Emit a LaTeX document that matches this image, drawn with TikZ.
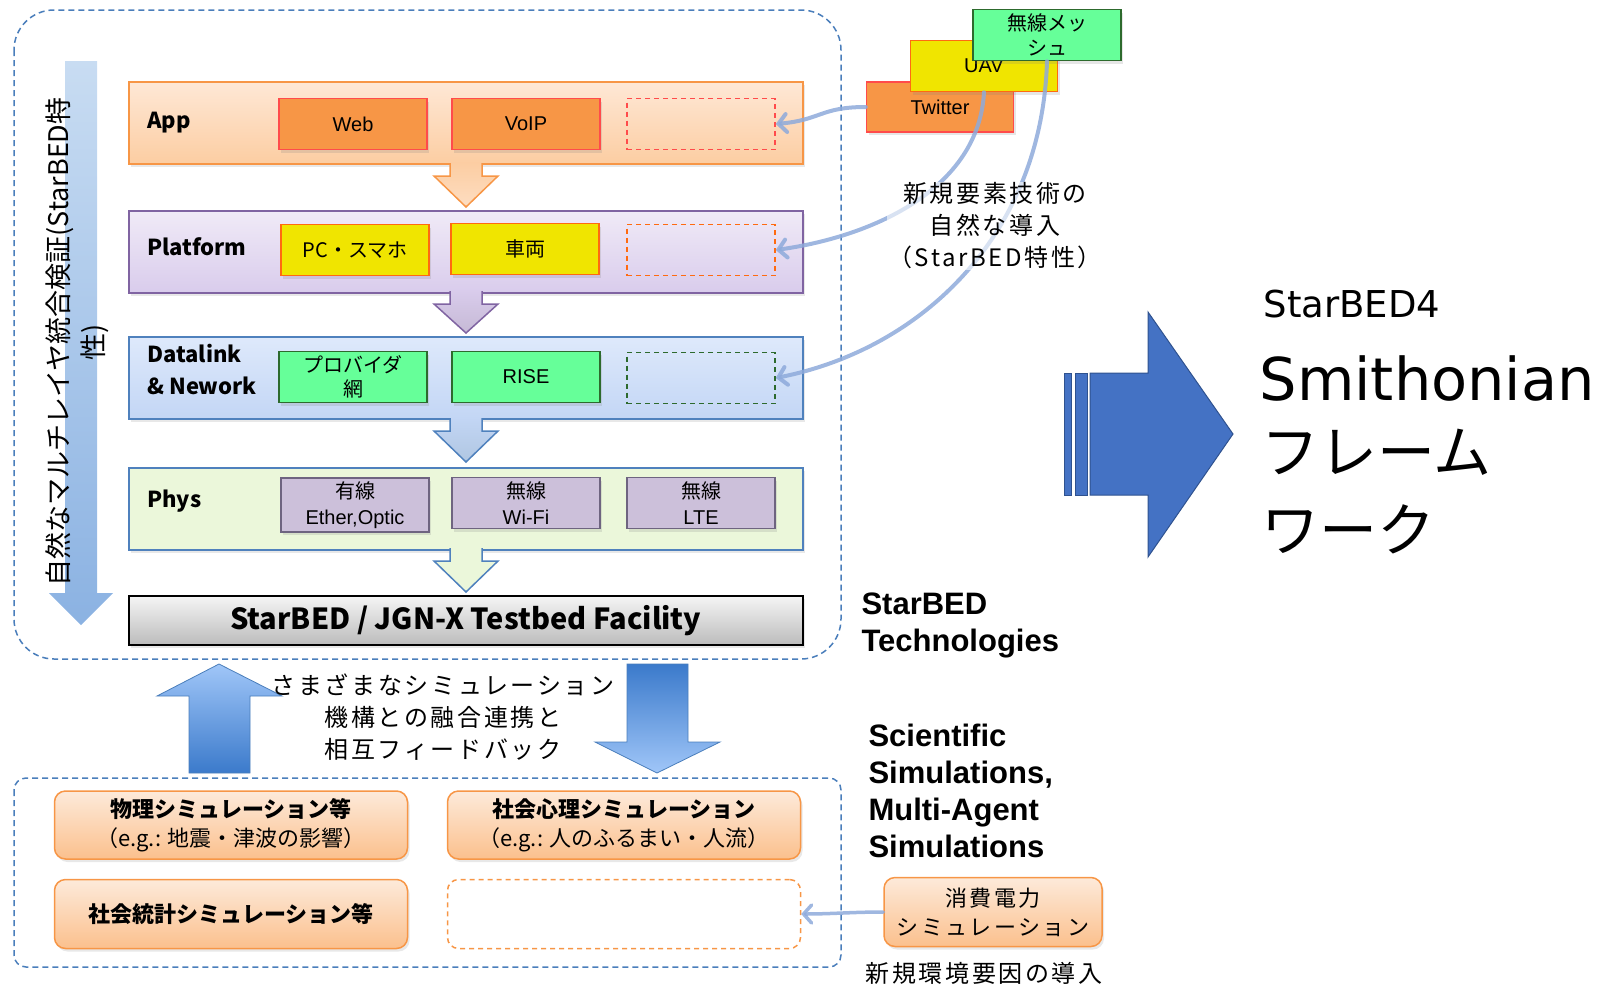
\documentclass[tikz,border=0pt]{standalone}
\usepackage{fontspec}
\setmainfont{Liberation Sans}
\newfontfamily\jp{Noto Sans CJK JP}
\newfontfamily\jpwide{Noto Sans CJK JP}[LetterSpace=11]
\newfontfamily\dvs{DejaVu Sans}
\usetikzlibrary{arrows.meta,shadows}
\newcommand{\fsz}[2]{\fontsize{#1}{#2}\selectfont}

\definecolor{appTop}{HTML}{FEE8D6}
\definecolor{appBot}{HTML}{FCCDA2}
\definecolor{appLine}{HTML}{F79646}
\definecolor{redLine}{HTML}{FF4B4B}
\definecolor{platTop}{HTML}{F0EAF7}
\definecolor{platBot}{HTML}{D9CCEC}
\definecolor{platLine}{HTML}{8064A2}
\definecolor{yellowCell}{HTML}{F0E500}
\definecolor{yellowLine}{HTML}{FF6A10}
\definecolor{linkTop}{HTML}{DEE9FB}
\definecolor{linkBot}{HTML}{C3D6F5}
\definecolor{linkLine}{HTML}{4F81BD}
\definecolor{greenCell}{HTML}{66FF99}
\definecolor{greenLine}{HTML}{2D6A2D}
\definecolor{physFill}{HTML}{EBF7DA}
\definecolor{grayCell}{HTML}{CCC0DA}
\definecolor{grayLine}{HTML}{6E6480}
\definecolor{facTop}{HTML}{F5F5F5}
\definecolor{facBot}{HTML}{BCBCBC}
\definecolor{newLine}{HTML}{8EAADB}
\definecolor{bigBlue}{HTML}{4472C4}
\definecolor{bigLine}{HTML}{2F528F}
\definecolor{midLight}{HTML}{A0C6F8}
\definecolor{midDark}{HTML}{3B7ACB}
\definecolor{simTop}{HTML}{FDEADA}
\definecolor{simBot}{HTML}{FBC08D}
\definecolor{frameLine}{HTML}{4A7EBB}
\definecolor{vTop}{HTML}{C8DCF2}
\definecolor{vBot}{HTML}{8BB2E2}

\tikzset{
  layer/.style={draw, line width=1.5, anchor=north west, minimum width=674, minimum height=82,
    drop shadow={opacity=0.18, shadow xshift=2pt, shadow yshift=-3pt}},
  lname/.style={anchor=west, align=left, inner sep=0, font=\jp\bfseries\fsz{22}{32}},
  cell/.style={draw, line width=1.5, minimum width=148, minimum height=51, align=center,
    font=\fsz{20}{26}, drop shadow={opacity=0.2, shadow xshift=2pt, shadow yshift=-3pt}},
  newcell/.style={draw, line width=1.5, dash pattern=on 5pt off 4pt, minimum width=148, minimum height=51},
  frame/.style={draw=frameLine, line width=1.5, dash pattern=on 6pt off 4pt},
  simbox/.style={draw=appLine, line width=1.5, rounded corners=11, top color=simTop, bottom color=simBot,
    minimum width=353, minimum height=68, align=center, font=\jp\fsz{22}{29},
    drop shadow={opacity=0.18, shadow xshift=2pt, shadow yshift=-3pt}},
  newtech/.style={draw=newLine, line width=4, line cap=round, opacity=0.85,
    -{Straight Barb[length=8pt, width=18pt, line cap=round]}},
  thin/.style={align=center, font=\jpwide\fsz{24}{32}},
  bold/.style={anchor=base west, align=left, font=\bfseries\fsz{31}{37}}
}

\begin{document}
\begin{tikzpicture}[x=1pt, y=-1pt]
  \useasboundingbox (0,0) rectangle (1609,988);

  % Frames
  \draw[frame, rounded corners=40] (14,10) rectangle (841,659);
  \draw[frame, rounded corners=12] (14,778) rectangle (841,967);

  % Multi-layer arrow on the left
  \shade[top color=vTop, bottom color=vBot] (65,61) -- (97,61) -- (97,593) -- (113,593)
    -- (81,625) -- (49,593) -- (65,593) -- cycle;
  \node[rotate=90, align=center, font=\jp\fsz{27}{35}] (multi) at (77,342)
    {自然なマルチレイヤ統合検証(StarBED特\\性)};

  % Layers
  \node[layer, draw=appLine, top color=appTop, bottom color=appBot] (app) at (128,81) {};
  \node[layer, draw=platLine, top color=platTop, bottom color=platBot] (plat) at (128,210) {};
  \node[layer, draw=linkLine, top color=linkTop, bottom color=linkBot] (dlink) at (128,336) {};
  \node[layer, draw=linkLine, fill=physFill] (phys) at (128,467) {};
  \node[layer, draw=black, top color=facTop, bottom color=facBot, minimum height=49,
    font=\jp\bfseries\fsz{29}{34}] (fac) at (128,595) {StarBED / JGN-X Testbed Facility};

  \node[lname] (appname) at (147,123) {App};
  \node[lname] (platname) at (147,247) {Platform};
  \node[lname] (dlinkname) at (147,370) {Datalink\\\& Nework};
  \node[lname] (physname) at (147,501) {Phys};

  % Arrows between layers
  \shade[top color=appBot, bottom color=appTop!60!appBot] (450,162) -- (482,162) -- (482,176)
    -- (498,176) -- (466,207) -- (434,176) -- (450,176) -- cycle;
  \draw[appLine, line width=1.5] (450,163) -- (450,176) -- (434,176) -- (466,207) -- (498,176)
    -- (482,176) -- (482,163);
  \shade[top color=platBot, bottom color=platLine!45] (450,290) -- (482,290) -- (482,304)
    -- (498,304) -- (466,333) -- (434,304) -- (450,304) -- cycle;
  \draw[platLine, line width=1.5] (450,291) -- (450,304) -- (434,304) -- (466,333) -- (498,304)
    -- (482,304) -- (482,291);
  \shade[top color=linkBot, bottom color=linkLine!45] (450,417) -- (482,417) -- (482,431)
    -- (498,431) -- (466,462) -- (434,431) -- (450,431) -- cycle;
  \draw[linkLine, line width=1.5] (450,418) -- (450,431) -- (434,431) -- (466,462) -- (498,431)
    -- (482,431) -- (482,418);
  \fill[physFill] (450,547) -- (482,547) -- (482,561) -- (498,561) -- (466,592) -- (434,561)
    -- (450,561) -- cycle;
  \draw[linkLine, line width=1.5] (450,548) -- (450,561) -- (434,561) -- (466,592) -- (498,561)
    -- (482,561) -- (482,548);

  % App cells
  \node[cell, draw=redLine, fill=appLine] (web) at (353,124) {Web};
  \node[cell, draw=redLine, fill=appLine] (voip) at (526,124) {VoIP};
  \node[newcell, draw=redLine] (appnew) at (701,124) {};

  % Platform cells
  \node[cell, draw=yellowLine, fill=yellowCell, font=\jp\fsz{20}{26}] (pc) at (355,250) {PC・スマホ};
  \node[cell, draw=yellowLine, fill=yellowCell, font=\jp\fsz{20}{26}] (car) at (525,249) {車両};
  \node[newcell, draw=yellowLine] (platnew) at (701,250) {};

  % Datalink cells
  \node[cell, draw=greenLine, fill=greenCell, font=\jp\fsz{20}{24}] (isp) at (353,377) {プロバイダ\\網};
  \node[cell, draw=greenLine, fill=greenCell] (rise) at (526,377) {RISE};
  \node[newcell, draw=greenLine] (dlinknew) at (701,378) {};

  % Phys cells
  \node[cell, draw=grayLine, fill=grayCell] (wired) at (355,505) {{\jp 有線}\\Ether,Optic};
  \node[cell, draw=grayLine, fill=grayCell] (wifi) at (526,503) {{\jp 無線}\\Wi-Fi};
  \node[cell, draw=grayLine, fill=grayCell] (lte) at (701,503) {{\jp 無線}\\LTE};

  % New element technologies
  \node[cell, draw=redLine, fill=appLine, minimum width=147, minimum height=50] (twitter) at (940,107) {Twitter};
  \node[cell, draw=yellowLine, fill=yellowCell, minimum width=147] (uav) at (984,66) {UAV};
  \node[cell, draw=greenLine, fill=greenCell, minimum width=148, font=\jp\fsz{20}{25}] (mesh) at (1047,35) {無線メッ\\シュ};

  \draw[newtech] (twitter.west) .. controls +(-45,0) and +(45,-4) .. (appnew.east);
  \draw[newtech] (uav.south) .. controls +(-5,95) and +(100,-14) .. (platnew.east);
  \draw[newtech] (mesh.south) .. controls +(-5,170) and +(150,-30) .. (dlinknew.east);
  \node[thin, fill=white, fill opacity=0.6, text opacity=1, inner sep=1] (newtext) at (995,226)
    {新規要素技術の\\自然な導入\\（StarBED特性）};

  \node[bold] (sbtech) at (858,651) {StarBED\\Technologies};

  % Feedback arrows
  \shade[top color=midLight, bottom color=midDark, draw=frameLine, line width=0.8]
    (189,773) -- (189,696) -- (157,696) -- (219,664) -- (282,696) -- (250,696) -- (250,773) -- cycle;
  \shade[top color=midDark, bottom color=midLight, draw=frameLine, line width=0.8]
    (627,664) -- (688,664) -- (688,742) -- (720,742) -- (657,773) -- (595,742) -- (627,742) -- cycle;
  \node[thin] (feedback) at (443,717) {さまざまなシミュレーション\\機構との融合連携と\\相互フィードバック};

  % Simulations
  \node[simbox] (phy) at (231,825) {{\bfseries 物理シミュレーション等}\\（e.g.: 地震・津波の影響）};
  \node[simbox] (soc) at (624,825) {{\bfseries 社会心理シミュレーション}\\（e.g.: 人のふるまい・人流）};
  \node[simbox, minimum height=69, font=\jp\bfseries\fsz{22}{29}] (stat) at (231,914) {社会統計シミュレーション等};
  \node[draw=appLine, line width=1.5, dash pattern=on 5pt off 4pt, rounded corners=11,
    minimum width=353, minimum height=69] (simnew) at (624,914) {};

  \node[bold] (scisim) at (865,857) {Scientific\\Simulations,\\Multi-Agent\\Simulations};

  \node[simbox, minimum width=218, minimum height=69, font=\jpwide\fsz{22}{29}] (power) at (993,912)
    {消費電力\\シミュレーション};
  \draw[newtech, line width=3.5] (power.west) .. controls +(-30,0) and +(30,0) .. (simnew.east);
  \node[thin] (envtext) at (984,973) {新規環境要因の導入};

  % StarBED4 framework
  \fill[bigBlue, draw=bigLine, line width=1] (1064,373) rectangle (1071,495);
  \fill[bigBlue, draw=bigLine, line width=1] (1075,373) rectangle (1087,495);
  \fill[bigBlue, draw=bigLine, line width=1] (1090,373) -- (1148,373) -- (1148,312) -- (1233,434)
    -- (1148,557) -- (1148,495) -- (1090,495) -- cycle;
  \node[anchor=base west, font=\dvs\fsz{37}{40}] (sb4) at (1260,317) {StarBED4};
  \node[anchor=base west, font=\dvs\fsz{59}{64}] (smith) at (1256,400) {Smithonian};
  \node[anchor=base west, font=\jp\fsz{58}{78}, align=left] (fw) at (1258,551) {フレーム\\ワーク};
\end{tikzpicture}
\end{document}
